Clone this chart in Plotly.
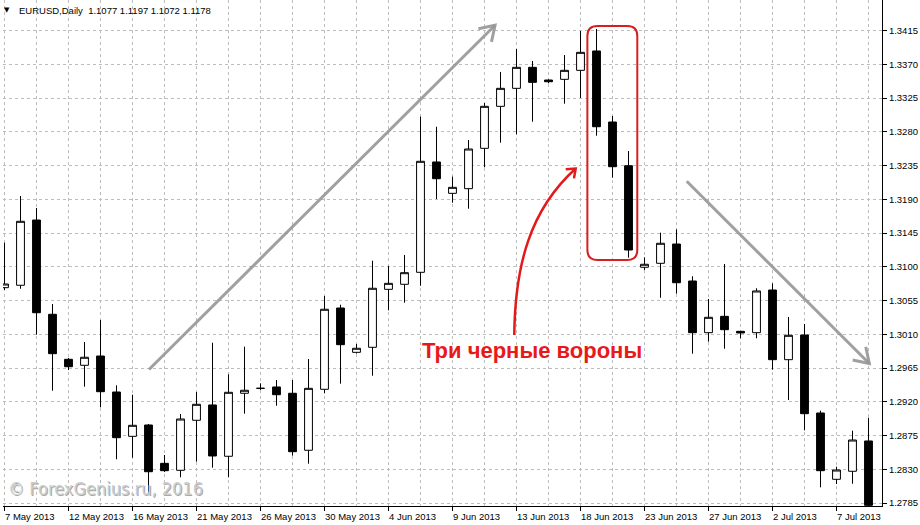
import math
import plotly.graph_objects as go

# ---------------- data ----------------
dates = [
    "2013-05-07", "2013-05-08", "2013-05-09", "2013-05-10", "2013-05-12", "2013-05-13",
    "2013-05-14", "2013-05-15", "2013-05-16", "2013-05-17", "2013-05-19", "2013-05-20",
    "2013-05-21", "2013-05-22", "2013-05-23", "2013-05-24", "2013-05-26", "2013-05-27",
    "2013-05-28", "2013-05-29", "2013-05-30", "2013-05-31", "2013-06-02", "2013-06-03",
    "2013-06-04", "2013-06-05", "2013-06-06", "2013-06-07", "2013-06-09", "2013-06-10",
    "2013-06-11", "2013-06-12", "2013-06-13", "2013-06-14", "2013-06-16", "2013-06-17",
    "2013-06-18", "2013-06-19", "2013-06-20", "2013-06-21", "2013-06-23", "2013-06-24",
    "2013-06-25", "2013-06-26", "2013-06-27", "2013-06-28", "2013-06-30", "2013-07-01",
    "2013-07-02", "2013-07-03", "2013-07-04", "2013-07-05", "2013-07-07", "2013-07-08",
    "2013-07-09",
]
opens = [
    1.30721, 1.30753, 1.31623, 1.30366, 1.29766, 1.29686, 1.29810, 1.29330, 1.28739, 1.28890,
    1.28379, 1.28286, 1.28953, 1.29157, 1.28473, 1.29313, 1.29379, 1.29397, 1.29313, 1.28553,
    1.29366, 1.30450, 1.29859, 1.29926, 1.30699, 1.30766, 1.30926, 1.32397, 1.31979, 1.32041,
    1.32579, 1.33139, 1.33379, 1.33659, 1.33490, 1.33499, 1.33619, 1.33877, 1.32930, 1.32347,
    1.30993, 1.31046, 1.31303, 1.30810, 1.30121, 1.30339, 1.30139, 1.30121, 1.30690, 1.29761,
    1.30090, 1.29050, 1.28166, 1.28273, 1.28677,
]
highs = [
    1.31321, 1.31943, 1.31783, 1.30503, 1.29783, 1.29997, 1.30290, 1.29419, 1.29294, 1.28903,
    1.28490, 1.29037, 1.29330, 1.29987, 1.29566, 1.29934, 1.29446, 1.29490, 1.29490, 1.29770,
    1.30610, 1.30494, 1.29970, 1.31081, 1.31010, 1.31157, 1.33001, 1.32867, 1.32201, 1.32690,
    1.33183, 1.33597, 1.33903, 1.33743, 1.33499, 1.33823, 1.34143, 1.34170, 1.33010, 1.32543,
    1.31126, 1.31454, 1.31499, 1.30873, 1.30570, 1.31037, 1.30145, 1.30713, 1.30779, 1.30330,
    1.30237, 1.29081, 1.28334, 1.28814, 1.28987,
]
lows = [
    1.30690, 1.30707, 1.30094, 1.29347, 1.29623, 1.29401, 1.29126, 1.28433, 1.28454, 1.27970,
    1.28263, 1.28193, 1.28401, 1.28321, 1.28193, 1.29041, 1.29357, 1.29147, 1.28481, 1.28374,
    1.29313, 1.29441, 1.29843, 1.29547, 1.30419, 1.30521, 1.30747, 1.31903, 1.31854, 1.31774,
    1.32326, 1.32654, 1.32766, 1.32934, 1.33446, 1.33174, 1.33250, 1.32747, 1.32187, 1.31121,
    1.30957, 1.30587, 1.30641, 1.29841, 1.30001, 1.29907, 1.30046, 1.30046, 1.29627, 1.29223,
    1.28819, 1.28059, 1.28103, 1.28107, 1.27790,
]
closes = [
    1.30770, 1.31606, 1.30387, 1.29841, 1.29667, 1.29793, 1.29334, 1.28721, 1.28886, 1.28267,
    1.28281, 1.28970, 1.29166, 1.28477, 1.29326, 1.29353, 1.29379, 1.29294, 1.28534, 1.29379,
    1.30433, 1.29961, 1.29913, 1.30713, 1.30779, 1.30921, 1.32406, 1.32174, 1.32059, 1.32570,
    1.33139, 1.33379, 1.33659, 1.33459, 1.33467, 1.33619, 1.33859, 1.32867, 1.32334, 1.31223,
    1.31033, 1.31313, 1.30787, 1.30121, 1.30326, 1.30161, 1.30117, 1.30677, 1.29761, 1.30086,
    1.29041, 1.28281, 1.28290, 1.28690, 1.27819,
]
x_labels = ["7 May 2013", "12 May 2013", "16 May 2013", "21 May 2013", "26 May 2013",
            "30 May 2013", "4 Jun 2013", "9 Jun 2013", "13 Jun 2013", "18 Jun 2013",
            "23 Jun 2013", "27 Jun 2013", "2 Jul 2013", "7 Jul 2013"]
x_label_dates = ["2013-05-07", "2013-05-12", "2013-05-16", "2013-05-21", "2013-05-26",
                 "2013-05-30", "2013-06-04", "2013-06-09", "2013-06-13", "2013-06-18",
                 "2013-06-23", "2013-06-27", "2013-07-02", "2013-07-07"]
price_ticks = [1.2785, 1.2830, 1.2875, 1.2920, 1.2965, 1.3010, 1.3055, 1.3100,
               1.3145, 1.3190, 1.3235, 1.3280, 1.3325, 1.3370, 1.3415]

pattern_label = "Три черные вороны"
header_text = "EURUSD,Daily  1.1077 1.1197 1.1072 1.1178"
watermark = "© ForexGenius.ru, 2016"

# ---------------- layout geometry ----------------
W, H = 920, 525
ML, MR, MT, MB = 3, 38, 0, 19
PW, PH = W - ML - MR, H - MT - MB
XR = [-0.09375, 54.84375]
YR = [1.278100, 1.345567]
SX = PW / (XR[1] - XR[0])
SY = PH / (YR[1] - YR[0])

xs = list(range(len(dates)))
idx = {d: i for i, d in enumerate(dates)}


def to_px(i, p):
    return (i - XR[0]) * SX, (YR[1] - p) * SY


def to_data(px, py):
    return XR[0] + px / SX, YR[1] - py / SY


def chevron(tip, frm, arm_len, ang_deg):
    tx, ty = to_px(*tip)
    fx, fy = to_px(*frm)
    a = math.atan2(fy - ty, fx - tx)
    pts = []
    for s in (-1, 1):
        aa = a + s * math.radians(ang_deg)
        pts.append(to_data(tx + arm_len * math.cos(aa), ty + arm_len * math.sin(aa)))
    t = tip
    return f"M {pts[0][0]},{pts[0][1]} L {t[0]},{t[1]} L {pts[1][0]},{pts[1][1]}"


fig = go.Figure()
fig.add_trace(go.Candlestick(
    x=xs, open=opens, high=highs, low=lows, close=closes,
    increasing=dict(line=dict(color="black", width=1), fillcolor="white"),
    decreasing=dict(line=dict(color="black", width=1), fillcolor="black"),
    whiskerwidth=0, showlegend=False, hoverinfo="skip",
))

shapes = []
gray = "rgba(150,150,150,0.9)"
# up-trend arrow
up_a, up_b = (9.03, 1.2963), (30.66, 1.3422)
shapes.append(dict(type="line", x0=up_a[0], y0=up_a[1], x1=up_b[0], y1=up_b[1],
                   line=dict(color=gray, width=3)))
shapes.append(dict(type="path", path=chevron(up_b, up_a, 17, 33),
                   line=dict(color=gray, width=3)))
# down-trend arrow
dn_a, dn_b = (42.64, 1.3214), (54.05, 1.2971)
shapes.append(dict(type="line", x0=dn_a[0], y0=dn_a[1], x1=dn_b[0], y1=dn_b[1],
                   line=dict(color=gray, width=3)))
shapes.append(dict(type="path", path=chevron(dn_b, dn_a, 17, 33),
                   line=dict(color=gray, width=3)))

# red rounded rectangle around three crows
red = "#d81e1e"
x0, x1, y0, y1 = 36.43, 39.55, 1.3109, 1.3421
rx, ry = 10 / SX, 10 / SY
rect = (f"M {x0+rx},{y1} L {x1-rx},{y1} Q {x1},{y1} {x1},{y1-ry} "
        f"L {x1},{y0+ry} Q {x1},{y0} {x1-rx},{y0} L {x0+rx},{y0} "
        f"Q {x0},{y0} {x0},{y0+ry} L {x0},{y1-ry} Q {x0},{y1} {x0+rx},{y1} Z")
shapes.append(dict(type="path", path=rect, line=dict(color=red, width=2)))

# red curved arrow
P0, P1, P2, P3 = (31.86, 1.3009), (31.91, 1.3102), (32.84, 1.3176), (35.70, 1.3231)
shapes.append(dict(type="path",
                   path=f"M {P0[0]},{P0[1]} C {P1[0]},{P1[1]} {P2[0]},{P2[1]} {P3[0]},{P3[1]}",
                   line=dict(color="#e3191b", width=2.5)))
shapes.append(dict(type="path", path=chevron(P3, P2, 10, 38),
                   line=dict(color="#e3191b", width=2.5)))

annotations = []
for lab, d in zip(x_labels, x_label_dates):
    annotations.append(dict(x=idx[d], y=0, xref="x", yref="paper", text=lab,
                            showarrow=False, xanchor="left", yanchor="top", yshift=-3,
                            xshift=-2,
                            font=dict(family="Liberation Sans, Arial", size=9.5, color="black")))
annotations.append(dict(x=32.97, y=1.29877, xref="x", yref="y", text=f"<b>{pattern_label}</b>",
                        showarrow=False, xanchor="center", yanchor="middle",
                        font=dict(family="Liberation Sans, Arial", size=22, color="#e8191a")))
annotations.append(dict(x=0, y=1, xref="paper", yref="paper", text="▼", showarrow=False,
                        xanchor="left", yanchor="top", xshift=-1, yshift=-4,
                        font=dict(family="DejaVu Sans", size=7, color="black")))
annotations.append(dict(x=0, y=1, xref="paper", yref="paper", text=header_text,
                        showarrow=False, xanchor="left", yanchor="top", xshift=14, yshift=-3,
                        font=dict(family="Liberation Sans, Arial", size=9.5, color="black")))
wm_font = "Liberation Sans Narrow, DejaVu Sans Condensed, Liberation Sans, Arial"
annotations.append(dict(x=0, y=1 - 488 / PH, xref="paper", yref="paper", text=watermark,
                        showarrow=False, xanchor="left", yanchor="middle", xshift=4, yshift=-1,
                        font=dict(family=wm_font, size=18, color="#a8a8a8")))
annotations.append(dict(x=0, y=1 - 488 / PH, xref="paper", yref="paper", text=watermark,
                        showarrow=False, xanchor="left", yanchor="middle", xshift=3,
                        font=dict(family=wm_font, size=18, color="#cdcdcd")))

grid = dict(gridcolor="#bdbdbd", griddash="3px,3px", gridwidth=1)
fig.update_layout(
    width=W, height=H, margin=dict(l=ML, r=MR, t=MT, b=MB),
    paper_bgcolor="white", plot_bgcolor="white",
    showlegend=False, shapes=shapes, annotations=annotations,
    xaxis=dict(range=XR, tickmode="linear", tick0=0, dtick=4, showticklabels=False,
               ticks="outside", ticklen=4, tickcolor="black", showline=True,
               linecolor="black", linewidth=1, zeroline=False, showgrid=True,
               rangeslider=dict(visible=False), fixedrange=True,
               minor=dict(tick0=0, dtick=2, showgrid=True, ticks="", **grid), **grid),
    yaxis=dict(range=YR, side="right", tickmode="array", tickvals=price_ticks,
               ticktext=[f"{v:.4f}" for v in price_ticks], ticks="outside", ticklen=4,
               tickcolor="black", showline=True, linecolor="black", linewidth=1,
               zeroline=False, showgrid=True, fixedrange=True,
               tickfont=dict(family="Liberation Sans, Arial", size=9.5, color="black"), **grid),
)
fig.write_html("out.html", config={"displayModeBar": False},
               post_script="document.body.style.margin='0';")
